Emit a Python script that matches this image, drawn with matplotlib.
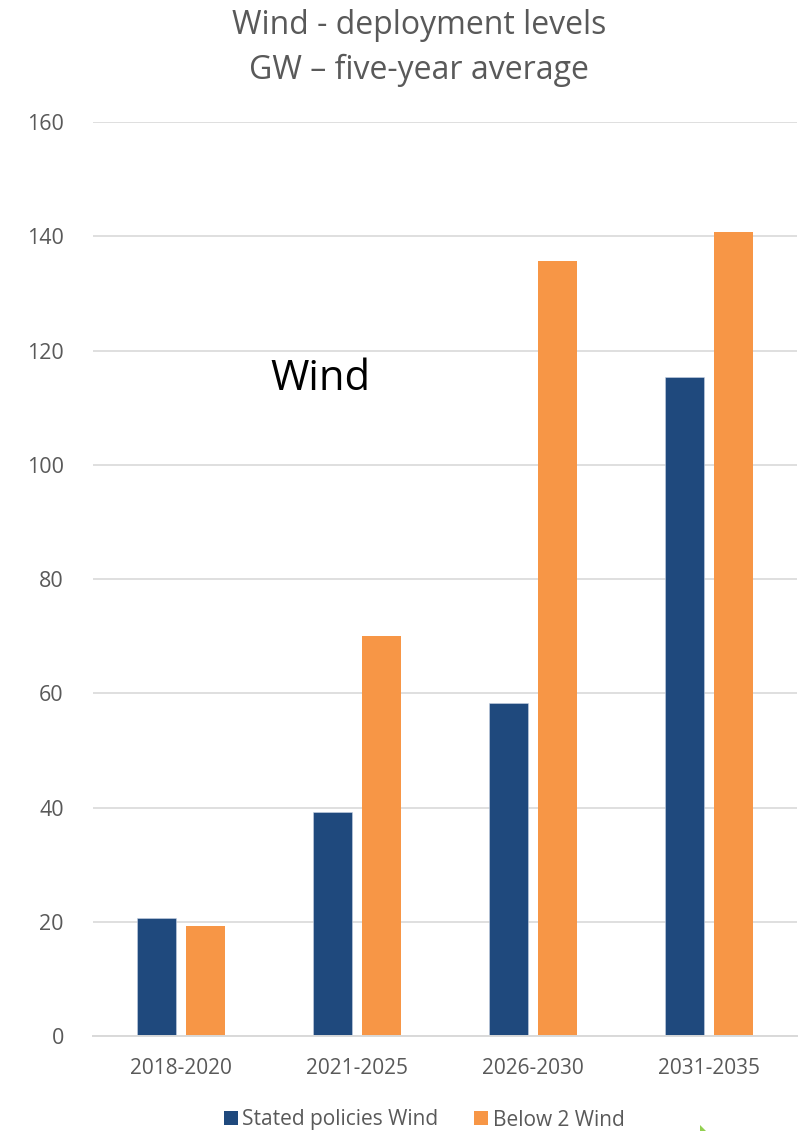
import matplotlib
matplotlib.use("Agg")
import matplotlib.pyplot as plt
from matplotlib.patches import Patch, Polygon
import numpy as np

# Data: five-year average wind deployment (GW)
periods = ["2018-2020", "2021-2025", "2026-2030", "2031-2035"]
stated_policies = [20.6, 39.2, 58.3, 115.4]
below_2 = [19.3, 70.1, 135.6, 140.7]
series_names = ["Stated policies Wind", "Below 2 Wind"]
y_ticks = [0, 20, 40, 60, 80, 100, 120, 140, 160]

BLUE = "#1F497D"
ORANGE = "#F79646"
TEXT = "#595959"
GRID = "#D9D9D9"

plt.rcParams["font.family"] = ["Open Sans", "DejaVu Sans"]

fig = plt.figure(figsize=(8.05, 11.31), dpi=100)
ax = fig.add_axes([93 / 805, 1 - 1036 / 1131, 704 / 805, 914 / 1131])

x = np.arange(len(periods))
w = 0.2216
off = 0.1406
ax.bar(x - off, stated_policies, width=w, color=BLUE, edgecolor="#C9D3E3",
       linewidth=0.4, zorder=3)
ax.bar(x + off, below_2, width=w, color=ORANGE, zorder=3)

ax.set_xlim(-0.5, len(periods) - 0.5)
ax.set_ylim(0, 160)
ax.set_yticks(y_ticks)
ax.set_yticklabels([str(v) for v in y_ticks])
ax.set_xticks(x)
ax.set_xticklabels(periods)

ax.grid(axis="y", color=GRID, linewidth=1.2, zorder=0)
ax.set_axisbelow(True)
for side in ["left", "right", "top"]:
    ax.spines[side].set_visible(False)
ax.spines["bottom"].set_color(GRID)
ax.spines["bottom"].set_linewidth(1.4)
ax.spines["bottom"].set_zorder(4)

ax.tick_params(axis="y", length=0, pad=21, labelsize=15.5, labelcolor=TEXT)
ax.tick_params(axis="x", length=0, pad=16, labelsize=15, labelcolor=TEXT)

# In-chart label
ax.text(0.795, 113.0, "Wind", fontsize=30, color="black",
        ha="center", va="baseline")

# Two-line title
fig.text(419 / 805, 1 - 25 / 1131, "Wind - deployment levels", fontsize=23,
         color=TEXT, ha="center", va="center")
fig.text(419 / 805, 1 - 70 / 1131, "GW \u2013 five-year average", fontsize=23,
         color=TEXT, ha="center", va="center")

handles = [Patch(facecolor=BLUE, edgecolor="none", label=series_names[0]),
           Patch(facecolor=ORANGE, edgecolor="none", label=series_names[1])]
leg = fig.legend(handles=handles, loc="center", ncol=2,
                 bbox_to_anchor=(424 / 805, 1 - 1120 / 1131),
                 frameon=False, fontsize=15, handlelength=0.67,
                 handleheight=0.67, handletextpad=0.2, columnspacing=1.75)
for t in leg.get_texts():
    t.set_color(TEXT)

# Small green marker at the bottom edge
fig.patches.append(Polygon([[700 / 805, 0], [700 / 805, 6 / 1131],
                            [706 / 805, 0]], closed=True,
                           transform=fig.transFigure, facecolor="#92D050",
                           edgecolor="none"))

fig.savefig("out.png", dpi=100)
